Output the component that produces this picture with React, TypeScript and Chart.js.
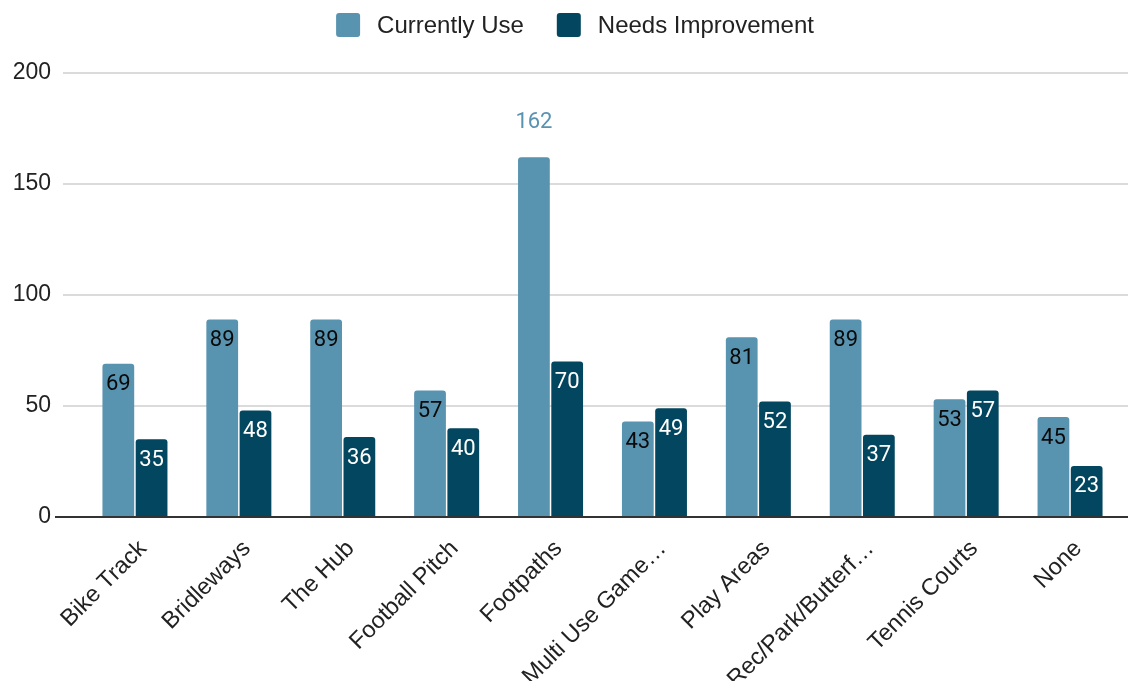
import React, { useEffect, useRef } from 'react';
import { Chart, registerables } from 'chart.js';

Chart.register(...registerables);

const categories = [
  'Bike Track',
  'Bridleways',
  'The Hub',
  'Football Pitch',
  'Footpaths',
  'Multi Use Game…',
  'Play Areas',
  'Rec/Park/Butterf…',
  'Tennis Courts',
  'None',
];
const currentlyUse = [69, 89, 89, 57, 162, 43, 81, 89, 53, 45];
const needsImprovement = [35, 48, 36, 40, 70, 49, 52, 37, 57, 23];
const seriesNames = ['Currently Use', 'Needs Improvement'];
const seriesColors = ['#5893B0', '#03465F'];
const labelColors = ['#0a0a0a', '#ffffff'];
const yMin = 0;
const yMax = 200;
const yStep = 50;

const FONT = '"Liberation Sans", Arial, sans-serif';
const LABEL_FONT = 'Roboto, "Noto Sans", sans-serif';

const gridPlugin = {
  id: 'customGrid',
  beforeDatasetsDraw(chart: any) {
    const { ctx, scales } = chart;
    const y = scales.y;
    ctx.save();
    ctx.strokeStyle = '#cfcfcf';
    ctx.lineWidth = 1.5;
    y.ticks.forEach((t: any) => {
      if (t.value === yMin) return;
      const py = Math.round(y.getPixelForValue(t.value));
      ctx.beginPath();
      ctx.moveTo(63, py);
      ctx.lineTo(chart.width, py);
      ctx.stroke();
    });
    ctx.restore();
  },
  afterDatasetsDraw(chart: any) {
    const { ctx, scales } = chart;
    const y = scales.y;
    ctx.save();
    const py0 = Math.round(y.getPixelForValue(yMin));
    ctx.strokeStyle = '#333333';
    ctx.lineWidth = 2;
    ctx.beginPath();
    ctx.moveTo(55, py0);
    ctx.lineTo(chart.width, py0);
    ctx.stroke();

    const allVals = chart.data.datasets.flatMap((d: any) => d.data);
    const maxVal = Math.max(...allVals);
    ctx.font = `22px ${LABEL_FONT}`;
    ctx.textAlign = 'center';
    ctx.textBaseline = 'middle';
    ctx.lineJoin = 'round';
    chart.data.datasets.forEach((ds: any, di: number) => {
      const meta = chart.getDatasetMeta(di);
      meta.data.forEach((bar: any, i: number) => {
        const v = ds.data[i];
        const text = String(v);
        if (v === maxVal) {
          ctx.fillStyle = seriesColors[di];
          ctx.fillText(text, bar.x, bar.y - 35);
        } else {
          ctx.strokeStyle = seriesColors[di];
          ctx.lineWidth = 3;
          ctx.strokeText(text, bar.x, bar.y + 21);
          ctx.fillStyle = labelColors[di];
          ctx.fillText(text, bar.x, bar.y + 21);
        }
      });
    });
    ctx.restore();
  },
  afterDraw(chart: any) {
    const { ctx } = chart;
    ctx.save();
    ctx.font = `24px ${FONT}`;
    const box = 24;
    const gapText = 17;
    const gapItem = 33;
    const widths = seriesNames.map((n) => ctx.measureText(n).width);
    const total =
      widths.reduce((a, w) => a + box + gapText + w, 0) + gapItem * (seriesNames.length - 1);
    let x = chart.width / 2 + 11 - total / 2;
    const cy = 25;
    seriesNames.forEach((n, i) => {
      ctx.fillStyle = seriesColors[i];
      ctx.beginPath();
      (ctx as any).roundRect(x, cy - box / 2, box, box, 3);
      ctx.fill();
      ctx.fillStyle = '#222222';
      ctx.textAlign = 'left';
      ctx.textBaseline = 'middle';
      ctx.fillText(n, x + box + gapText, cy + 1);
      x += box + gapText + widths[i] + gapItem;
    });
    ctx.restore();
  },
};

export default function App() {
  const ref = useRef<HTMLCanvasElement | null>(null);
  useEffect(() => {
    if (!ref.current) return;
    const chart = new Chart(ref.current, {
      type: 'bar',
      data: {
        labels: categories,
        datasets: [
          {
            label: seriesNames[0],
            data: currentlyUse,
            backgroundColor: seriesColors[0],
            borderRadius: 3,
            borderSkipped: 'bottom',
            categoryPercentage: 0.64,
            barPercentage: 0.955,
          },
          {
            label: seriesNames[1],
            data: needsImprovement,
            backgroundColor: seriesColors[1],
            borderRadius: 3,
            borderSkipped: 'bottom',
            categoryPercentage: 0.64,
            barPercentage: 0.955,
          },
        ],
      },
      options: {
        responsive: false,
        animation: false,
        layout: { padding: { top: 73, right: 6, left: 0, bottom: 0 } },
        plugins: {
          legend: { display: false },
          tooltip: { enabled: false },
        },
        scales: {
          x: {
            grid: { display: false, drawTicks: false },
            border: { display: false },
            ticks: {
              autoSkip: false,
              maxRotation: 45,
              minRotation: 45,
              padding: 18,
              labelOffset: 8,
              color: '#222222',
              font: { family: FONT, size: 23.5 },
            },
            afterFit(s: any) {
              s.height = 164;
            },
          },
          y: {
            min: yMin,
            max: yMax,
            grid: { display: false, drawTicks: false },
            border: { display: false },
            ticks: {
              stepSize: yStep,
              padding: 32,
              color: '#222222',
              font: { family: FONT, size: 23 },
            },
            afterFit(s: any) {
              s.width = 83;
            },
          },
        },
      },
      plugins: [gridPlugin],
    });
    return () => chart.destroy();
  }, []);
  return (
    <div style={{ position: 'absolute', left: 0, top: 0, width: 1128, height: 681 }}>
      <canvas ref={ref} width={1128} height={681} style={{ display: 'block' }} />
    </div>
  );
}
